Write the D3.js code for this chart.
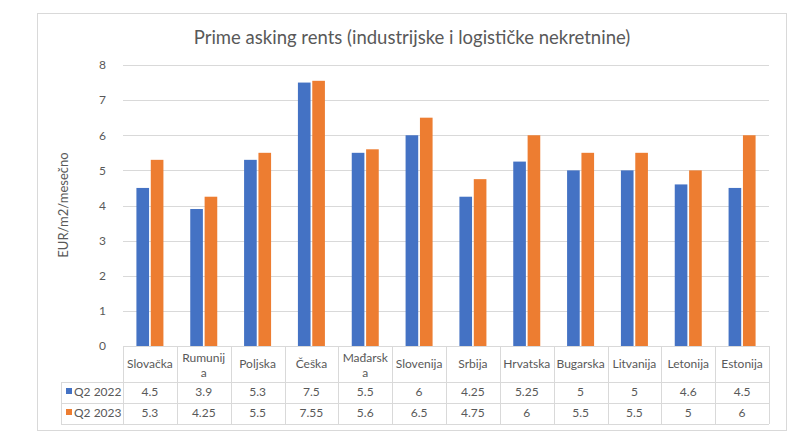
<!DOCTYPE html>
<html><head><meta charset="utf-8">
<script src="https://cdn.jsdelivr.net/npm/d3@7"></script>
<style>body{margin:0;background:#fff}svg{display:block}text{font-family:Lato,"Open Sans",sans-serif}</style>
</head><body>
<svg id="c" width="800" height="445"></svg>
<script>
const categories = ["Slovačka","Rumunija","Poljska","Češka","Mađarska","Slovenija","Srbija","Hrvatska","Bugarska","Litvanija","Letonija","Estonija"];
const categoryLines = [["Slovačka"],["Rumunij","a"],["Poljska"],["Češka"],["Mađarsk","a"],["Slovenija"],["Srbija"],["Hrvatska"],["Bugarska"],["Litvanija"],["Letonija"],["Estonija"]];
const seriesNames = ["Q2 2022","Q2 2023"];
const q2022 = [4.5,3.9,5.3,7.5,5.5,6,4.25,5.25,5,5,4.6,4.5];
const q2023 = [5.3,4.25,5.5,7.55,5.6,6.5,4.75,6,5.5,5.5,5,6];
const yTicks = [0,1,2,3,4,5,6,7,8];
const colors = ["#4472C4","#ED7D31"];
const title = "Prime asking rents (industrijske i logističke nekretnine)";
const yLabel = "EUR/m2/mesečno";

const svg = d3.select("#c");
const L = 123, R = 769, T = 65, B = 346;
const txt = "#595959", grid = "#d9d9d9";

svg.append("rect").attr("x",37.5).attr("y",13.5).attr("width",749).attr("height",417)
  .attr("fill","#fff").attr("stroke","#d9d9d9");

svg.append("text").attr("x",412).attr("y",44).attr("text-anchor","middle")
  .attr("font-size",18.5).attr("fill",txt).text(title);

const x = d3.scaleBand().domain(categories).range([L,R]).paddingInner(0).paddingOuter(0);
const y = d3.scaleLinear().domain([0,8]).range([B,T]);
const x1 = d3.scaleBand().domain(seriesNames).range([0,27]).paddingInner(0.12);

// gridlines
svg.append("g").selectAll("line").data(yTicks.filter(d=>d>0)).join("line")
  .attr("x1",L).attr("x2",R).attr("y1",d=>Math.round(y(d))+0.5).attr("y2",d=>Math.round(y(d))+0.5)
  .attr("stroke",grid);

// y axis labels
const yAxis = d3.axisLeft(y).tickValues(yTicks).tickSize(0).tickPadding(0).tickFormat(d3.format("d"));
const gy = svg.append("g").attr("transform",`translate(106,0)`).call(yAxis);
gy.select(".domain").remove();
gy.selectAll("text").attr("fill",txt).attr("font-size",12).attr("font-family","Lato, sans-serif");

svg.append("text").attr("transform",`translate(68,205) rotate(-90)`).attr("text-anchor","middle")
  .attr("font-size",13).attr("fill",txt).text(yLabel);

// bars
const data = [q2022,q2023];
const groups = svg.append("g").selectAll("g").data(categories).join("g")
  .attr("transform",d=>`translate(${x(d)+(x.bandwidth()-27)/2},0)`);
groups.selectAll("rect").data((d,i)=>seriesNames.map((s,j)=>({s,v:data[j][i]}))).join("rect")
  .attr("x",d=>x1(d.s)).attr("width",x1.bandwidth())
  .attr("y",d=>y(d.v)).attr("height",d=>y(0)-y(d.v))
  .attr("fill",(d,j)=>colors[j]);

// table
const rowY = [B,382,403,424];
const LL = 61;
const tg = svg.append("g").attr("stroke",grid).attr("fill","none");
tg.append("line").attr("x1",L).attr("x2",R).attr("y1",B+0.5).attr("y2",B+0.5);
[382,403,424].forEach(yy=>tg.append("line").attr("x1",LL).attr("x2",R).attr("y1",yy+0.5).attr("y2",yy+0.5));
tg.append("line").attr("x1",LL+0.5).attr("x2",LL+0.5).attr("y1",382).attr("y2",424);
categories.forEach(c=>tg.append("line").attr("x1",Math.round(x(c))+0.5).attr("x2",Math.round(x(c))+0.5).attr("y1",B).attr("y2",424));
tg.append("line").attr("x1",R+0.5).attr("x2",R+0.5).attr("y1",B).attr("y2",424);

// category labels
categories.forEach((c,i)=>{
  const lines = categoryLines[i];
  const cx = x(c)+x.bandwidth()/2;
  lines.forEach((ln,k)=>{
    const yy = lines.length===1 ? 368 : 362 + k*15;
    svg.append("text").attr("x",cx).attr("y",yy).attr("text-anchor","middle")
      .attr("font-size",12).attr("fill",txt).text(ln);
  });
});
// values
data.forEach((arr,j)=>{
  arr.forEach((v,i)=>{
    const c = categories[i];
    svg.append("text").attr("x",x(c)+x.bandwidth()/2).attr("y",(j===0?396:417)).attr("text-anchor","middle")
      .attr("font-size",12).attr("fill",txt).text(String(v));
  });
  svg.append("rect").attr("x",66).attr("y",(j===0?388:409)).attr("width",6).attr("height",6).attr("fill",colors[j]);
  svg.append("text").attr("x",74).attr("y",(j===0?396:417)).attr("font-size",12).attr("fill",txt).text(seriesNames[j]);
});
</script>
</body></html>
